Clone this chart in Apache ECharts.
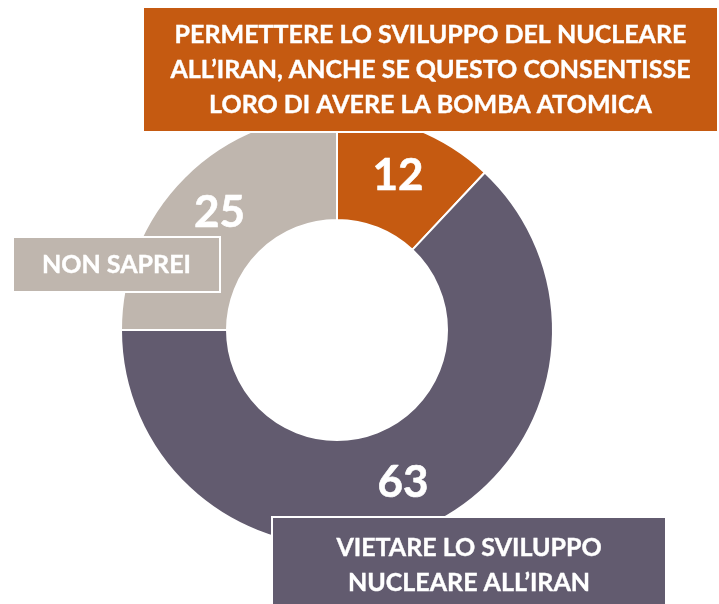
<!DOCTYPE html>
<html>
<head>
<meta charset="utf-8">
<script src="https://cdn.jsdelivr.net/npm/echarts@6/dist/echarts.min.js"></script>
<style>
  html, body { margin: 0; padding: 0; background: #fff; }
  #chart { width: 719px; height: 604px; }
</style>
</head>
<body>
<div id="chart"></div>
<script>
// data
const categories = [
  "PERMETTERE LO SVILUPPO DEL NUCLEARE\nALL\u2019IRAN, ANCHE SE QUESTO CONSENTISSE\nLORO DI AVERE LA BOMBA ATOMICA",
  "VIETARE LO SVILUPPO\nNUCLEARE ALL\u2019IRAN",
  "NON SAPREI",
];
const values = [12, 63, 25];
const colors = ["#C55A11", "#625B6F", "#BFB6AE"];

var chart = echarts.init(document.getElementById("chart"));
const font = "Lato, 'Open Sans', sans-serif";

// label boxes: [x, y, w, h] for each category
const boxes = [
  [143, 7, 575, 125],
  [272, 517, 394, 92],
  [13, 237, 207, 55],
];
const textY = [70, 565, 265];

const graphic = categories.map((name, i) => {
  const b = boxes[i];
  return {
    type: "group",
    z: 100,
    children: [
      {
        type: "rect",
        shape: { x: b[0], y: b[1], width: b[2], height: b[3] },
        style: { fill: colors[i], stroke: "#ffffff", lineWidth: 2 },
        z: 100,
      },
      {
        type: "text",
        x: b[0] + b[2] / 2,
        y: textY[i],
        z: 101,
        style: {
          text: name,
          fill: "#ffffff",
          font: "bold 25px " + font,
          align: "center",
          verticalAlign: "middle",
          lineHeight: 35,
          stroke: "#ffffff",
          lineWidth: 0.4,
        },
      },
    ],
  };
});

var option = {
  backgroundColor: "#ffffff",
  animation: false,
  series: [
    {
      type: "pie",
      center: [337, 330],
      radius: [110, 216],
      startAngle: 90,
      clockwise: true,
      data: values.map((v, i) => ({
        value: v,
        name: categories[i],
        itemStyle: { color: colors[i] },
      })),
      itemStyle: {
        borderColor: "#ffffff",
        borderWidth: 2,
      },
      label: {
        show: true,
        position: "inside",
        formatter: "{c}",
        color: "#ffffff",
        fontFamily: font,
        fontWeight: "bold",
        fontSize: 44,
        textBorderColor: "#ffffff",
        textBorderWidth: 0.6,
      },
      labelLine: { show: false },
      emphasis: { disabled: true },
    },
  ],
  graphic: graphic,
};
option && chart.setOption(option);
</script>
</body>
</html>
